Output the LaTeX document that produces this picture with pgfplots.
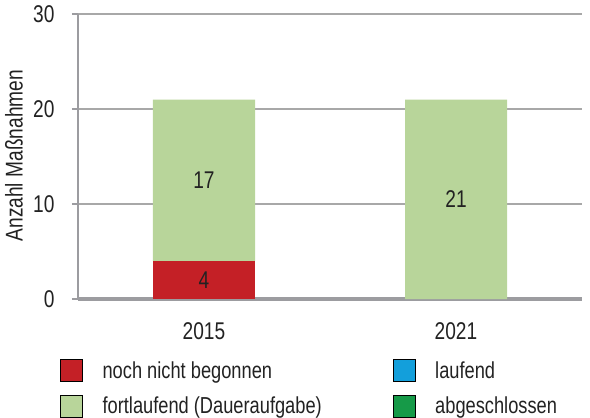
\documentclass[border=0pt]{standalone}
\usepackage{pgfplots}
\usepackage{pgfplotstable}
\pgfplotsset{compat=1.18}
\usepackage{fontspec}
\setmainfont{Liberation Sans}[FakeStretch=0.79]
\definecolor{cred}{HTML}{C42026}
\definecolor{clight}{HTML}{B8D59A}
\definecolor{cblue}{HTML}{139FDB}
\definecolor{cgreen}{HTML}{169A48}
\definecolor{cgrid}{HTML}{A8A8A8}
\definecolor{caxis}{HTML}{9C9CA0}
\definecolor{ctext}{HTML}{222222}
\newcommand\fs{\fontsize{24.3}{29}\selectfont}
\newcommand\fl{\fontsize{23.2}{28}\selectfont}
\pgfplotstableread{
x y lab
0 4 4
1 0 {}
}\redtab
\pgfplotstableread{
x y lab
0 17 17
1 21 21
}\lighttab
\begin{document}
\begin{tikzpicture}
\begin{axis}[
  scale only axis, width=504bp, height=285bp,
  at={(0,0)}, anchor=south west,
  ybar stacked, bar width=102bp,
  xmin=-0.5, xmax=1.5, ymin=0, ymax=30,
  xtick={0,1}, xticklabels={2015,2021},
  ytick={0,10,20,30},
  ymajorgrids, grid style={cgrid, line width=1.3bp},
  axis lines=left, axis line style={-},
  x axis line style={caxis, line width=4bp},
  y axis line style={caxis, line width=1.5bp},
  tick align=outside, major tick length=6bp,
  xtick style={draw=none},
  ytick style={caxis, line width=1.3bp},
  /pgf/number format/assume math mode=true,
  ticklabel style={font=\fs, text=ctext},
  xticklabel style={yshift=-14bp},
  yticklabel style={xshift=-14bp},
  ylabel={Anzahl Maßnahmen},
  every axis y label/.style={at={(axis description cs:0,0.503)}, xshift=-64bp, rotate=90, anchor=center, font=\fs, text=ctext},
  legend columns=2,
  legend cell align=left,
  legend style={at={(axis description cs:-0.0417,-0.2035)}, anchor=north west, draw=none, fill=none, font=\fl, text=ctext,
    row sep=13bp, nodes={inner xsep=10bp},
    /tikz/every odd column/.append style={column sep=10bp},
    /tikz/every even column/.append style={column sep=61bp}},
  legend image code/.code={\fill[#1] (0bp,-11bp) rectangle (22bp,11bp);},
  nodes near coords,
  point meta=explicit symbolic,
  every node near coord/.append style={font=\fs, text=ctext, anchor=center},
]
\addplot[fill=cred, draw=none, forget plot] table[x=x, y=y, meta=lab] {\redtab};
\addplot[fill=clight, draw=none, forget plot] table[x=x, y=y, meta=lab] {\lighttab};
\addlegendimage{fill=cred}
\addlegendentry{noch nicht begonnen}
\addlegendimage{fill=cblue}
\addlegendentry{laufend}
\addlegendimage{fill=clight}
\addlegendentry{fortlaufend (Daueraufgabe)}
\addlegendimage{fill=cgreen}
\addlegendentry{abgeschlossen}
\end{axis}
\pgfresetboundingbox
\useasboundingbox (-78bp,-119bp) rectangle (512bp,299bp);
\end{tikzpicture}
\end{document}
